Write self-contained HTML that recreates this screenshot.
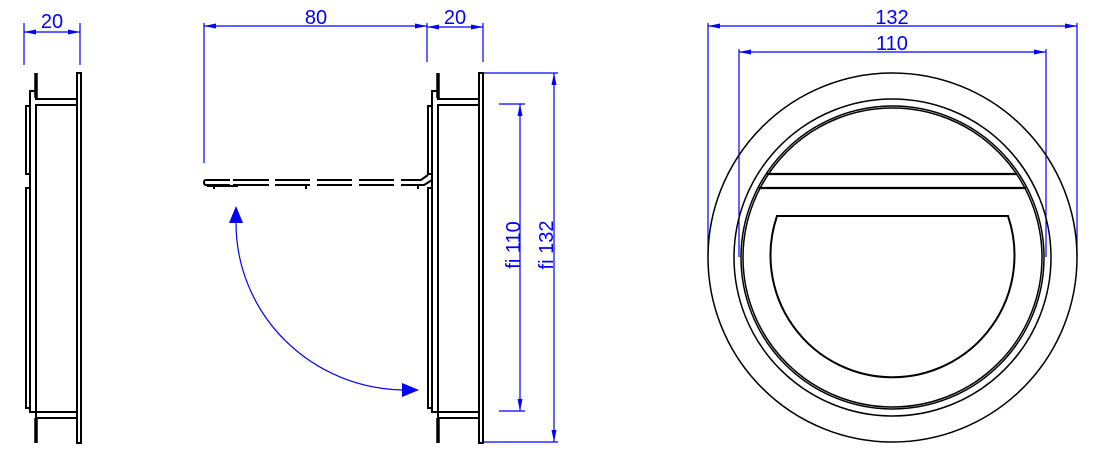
<!DOCTYPE html>
<html><head><meta charset="utf-8"><style>
html,body{margin:0;padding:0;background:#fff;}
svg{display:block;}
text{font-family:"Liberation Sans",sans-serif;fill:#0000ff;font-size:20px;}
</style></head><body>
<svg width="1101" height="466" viewBox="0 0 1101 466" xmlns="http://www.w3.org/2000/svg">
<defs>
<g id="side" fill="none" stroke="#000" stroke-width="2">
  <rect x="0" y="73" width="4" height="370"/>
  <line x1="-41" y1="73" x2="-41" y2="98" stroke-width="3.5"/>
  <line x1="-41" y1="418" x2="-41" y2="443" stroke-width="3.5"/>
  <path d="M0 99 H-41 V91 H-47 V412 H-41 V418 H0"/>
  <path d="M0 105 H-41 V412 H0"/>
  <path d="M-47 106 H-51 V174 H-47 M-47 188 H-51 V408 H-47"/>
</g>
</defs>
<use href="#side" transform="translate(77,0)"/>
<use href="#side" transform="translate(479,0)"/>
<!-- lid -->
<g stroke="#000" stroke-width="2" fill="none">
  <path d="M230 180 H206 Q204 180 204 182.5 Q204 185 206 185 H230"/>
  <path d="M233 180 H269 M233 185 H269 M275 180 H310 M275 185 H310 M317 180 H352 M317 185 H352 M359 180 H394 M359 185 H394"/>
  <path d="M401 180 H421 L428 175 M401 185 H424 L432 180"/>
  <path d="M207 186 H238 M214 186 v3 M306 186 v3 M418 186 v3"/>
</g>
<!-- dimensions -->
<g stroke="#0000ff" stroke-width="1.2" fill="none">
  <line x1="24" y1="23" x2="24" y2="65"/><line x1="80" y1="23" x2="80" y2="65"/><line x1="24" y1="32" x2="80" y2="32"/>
  <line x1="204" y1="23" x2="204" y2="163"/><line x1="427" y1="23" x2="427" y2="62"/><line x1="483" y1="23" x2="483" y2="62"/>
  <line x1="204" y1="26" x2="427" y2="26"/><line x1="427" y1="27" x2="483" y2="27"/>
  <line x1="483" y1="73" x2="558" y2="73"/><line x1="484" y1="442" x2="558" y2="442"/><line x1="554" y1="73" x2="554" y2="442"/>
  <line x1="499" y1="104" x2="525" y2="104"/><line x1="499" y1="411" x2="525" y2="411"/><line x1="520" y1="104" x2="520" y2="411"/>
  <line x1="708" y1="23" x2="708" y2="257"/><line x1="1077" y1="23" x2="1077" y2="257"/><line x1="708" y1="26" x2="1077" y2="26"/>
  <line x1="739" y1="49" x2="739" y2="257"/><line x1="1046" y1="49" x2="1046" y2="257"/><line x1="739" y1="52" x2="1046" y2="52"/>
  <path d="M236 223 A170 167 0 0 0 402 390"/>
</g>
<g fill="#0000ff">
  <path d="M24 32 l12 -2.5 v5z M80 32 l-12 -2.5 v5z"/>
  <path d="M204 26 l12 -2.5 v5z M427 26 l-12 -2.5 v5z M427 27 l12 -2.5 v5z M483 27 l-12 -2.5 v5z"/>
  <path d="M554 73 l-2.5 12 h5z M554 442 l-2.5 -12 h5z M520 104 l-2.5 12 h5z M520 411 l-2.5 -12 h5z"/>
  <path d="M708 26 l12 -2.5 v5z M1077 26 l-12 -2.5 v5z M739 52 l12 -2.5 v5z M1046 52 l-12 -2.5 v5z"/>
  <path d="M236 206 L229 223 H243z M419 390 L402 383 V397z"/>
</g>
<text x="52" y="28" text-anchor="middle">20</text>
<text x="316" y="24" text-anchor="middle">80</text>
<text x="455" y="24" text-anchor="middle">20</text>
<text x="892" y="24" text-anchor="middle">132</text>
<text x="892" y="50" text-anchor="middle">110</text>
<text transform="translate(520,245) rotate(-90)" text-anchor="middle">fi 110</text>
<text transform="translate(553,245) rotate(-90)" text-anchor="middle">fi 132</text>
<!-- circle view -->
<g stroke="#000" fill="none" stroke-width="1.5">
  <circle cx="892.5" cy="257.5" r="184.5"/>
  <circle cx="892.5" cy="257.5" r="158.5"/>
  <circle cx="892.5" cy="257.5" r="151.5"/>
  <circle cx="892.5" cy="257.5" r="149.5"/>
  <line x1="767" y1="174" x2="1017" y2="174" stroke-width="2.2"/>
  <line x1="759" y1="188" x2="1026" y2="188" stroke-width="2.2"/>
  <path d="M777 216 H1008 A122 122 0 1 1 777 216 Z" stroke-width="2"/>
</g>
</svg>
</body></html>
